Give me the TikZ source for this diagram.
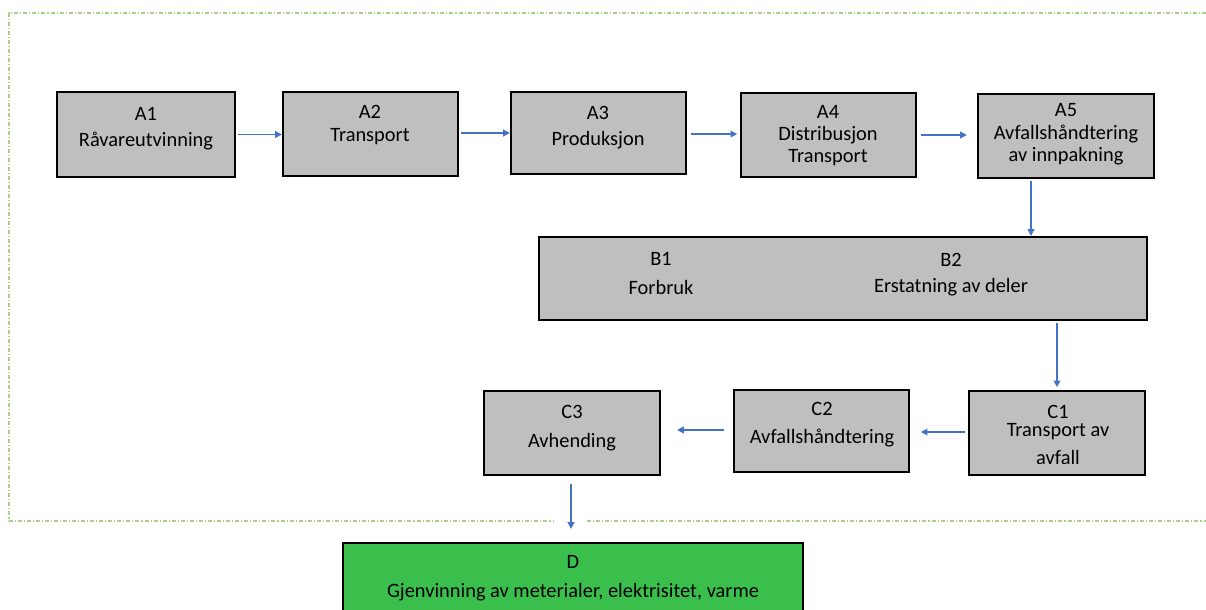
\documentclass[tikz,border=0pt]{standalone}
\usepackage{fontspec}
\setmainfont{Carlito}
\usetikzlibrary{arrows.meta}
\definecolor{boxgray}{RGB}{191,191,191}
\definecolor{dgreen}{RGB}{59,191,76}
\definecolor{arrblue}{RGB}{68,114,196}
\definecolor{dashgreen}{RGB}{169,209,142}
\begin{document}
\begin{tikzpicture}[x=0.75pt,y=-0.75pt,
  box/.style={draw=black,line width=1.7pt,fill=boxgray,inner sep=0pt},
  greenbox/.style={box,fill=dgreen},
  lbl/.style={align=center,inner sep=0pt,font=\fontsize{15.3}{16.8}\selectfont},
  arr/.style={draw=arrblue,line width=1.1pt,-{Triangle[length=5pt,width=5pt]}},
  frame/.style={draw=dashgreen,line width=1.1pt,dash pattern=on 3pt off 1.5pt on 0.8pt off 1.5pt}
]
\clip (0,0) rectangle (1206,610);
% frame
\draw[frame] (1206,13) -- (9,13) -- (9,521) -- (553,521);
\draw[frame] (587,521) -- (1206,521);
% boxes
\node[box,minimum width=133.5pt,minimum height=63.75pt] (A1) at (146,134.5) {};
\node[box,minimum width=131.25pt,minimum height=63pt] (A2) at (370.5,134) {};
\node[box,minimum width=131.25pt,minimum height=61.5pt] (A3) at (598.5,133) {};
\node[box,minimum width=131.25pt,minimum height=63pt] (A4) at (828.5,135) {};
\node[box,minimum width=132pt,minimum height=63pt] (A5) at (1066,136) {};
\node[box,minimum width=456pt,minimum height=62.25pt] (B) at (843,278.5) {};
\node[box,minimum width=132pt,minimum height=63pt] (C1) at (1057,433) {};
\node[box,minimum width=131.25pt,minimum height=61.5pt] (C2) at (821.5,431) {};
\node[box,minimum width=132pt,minimum height=63pt] (C3) at (572,433) {};
\node[greenbox,minimum width=345pt,minimum height=61.5pt] (D) at (573,584) {};
% labels
\node[lbl] (A1t) at (146,128.5) {A1\\[3pt]Råvareutvinning};
\node[lbl] (A2t) at (370,125) {A2\\Transport};
\node[lbl] (A3t) at (598,127.5) {A3\\[3pt]Produksjon};
\node[lbl] (A4t) at (828,135.5) {A4\\Distribusjon\\Transport};
\node[lbl] (A5t) at (1066,134.5) {A5\\Avfallshåndtering\\av innpakning};
\node[lbl] (B1t) at (661,273.5) {B1\\[4.5pt]Forbruk};
\node[lbl] (B2t) at (951,274.5) {B2\\[3pt]Erstatning av deler};
\node[lbl] (C1t) at (1058,435) {C1\\[-3pt]Transport av\\[4pt]avfall};
\node[lbl] (C2t) at (822,424.5) {C2\\[4.5pt]Avfallshåndtering};
\node[lbl] (C3t) at (572,428) {C3\\[5.25pt]Avhending};
\node[lbl] (Dt) at (573,578.5) {D\\[5.25pt]Gjenvinning av meterialer, elektrisitet, varme};
% arrows
\draw[arr,shorten <=1.5pt] (A1.east) -- (A1.east -| A2.west);
\draw[arr,shorten <=1.5pt] ([yshift=0.75pt]A2.east) -- ([yshift=0.75pt]A2.east -| A3.west);
\draw[arr,shorten <=3pt,shorten >=2pt] ([yshift=-0.75pt]A3.east) -- ([yshift=-0.75pt]A3.east -| A4.west);
\draw[arr,shorten <=3pt,shorten >=7.5pt] (A4.east) -- (A4.east -| A5.west);
\draw[arr,shorten <=1.5pt] ([xshift=-26.25pt]A5.south) -- ([xshift=-26.25pt]A5.south |- B.north);
\draw[arr,shorten <=1.5pt,shorten >=2pt] (C1.north |- B.south) -- (C1.north);
\draw[arr,shorten <=2pt,shorten >=8pt] ([yshift=0.75pt]C1.west) -- ([yshift=0.75pt]C1.west -| C2.east);
\draw[arr,shorten <=6.75pt,shorten >=12pt] ([yshift=0.75pt]C2.west) -- ([yshift=0.75pt]C2.west -| C3.east);
\draw[arr,shorten <=6pt,shorten >=9.75pt] ([xshift=-0.75pt]C3.south) -- ([xshift=-0.75pt]C3.south |- D.north);
\end{tikzpicture}
\end{document}
